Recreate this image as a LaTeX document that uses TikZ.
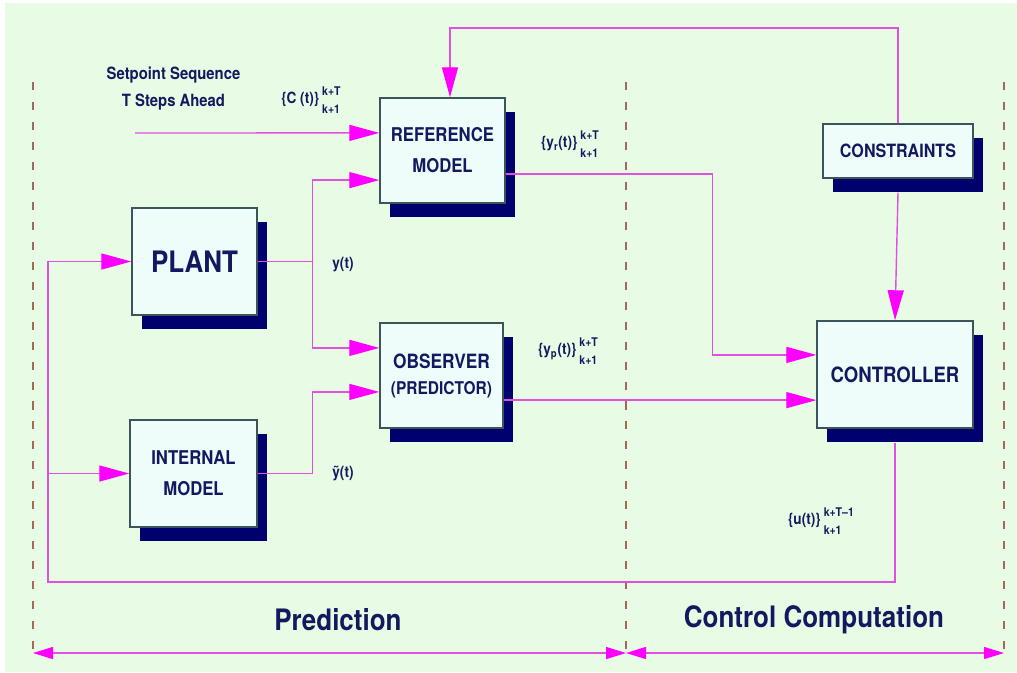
\documentclass[tikz,border=0pt]{standalone}
\usepackage{fontspec}
\setmainfont{TeX Gyre Heros}[FakeStretch=0.88]
\usetikzlibrary{arrows.meta,shadows}

\definecolor{bgcolor}{RGB}{232,251,228}
\definecolor{boxfill}{RGB}{238,252,250}
\definecolor{boxline}{RGB}{60,85,90}
\definecolor{shadowblue}{RGB}{0,0,110}
\definecolor{textblue}{RGB}{20,25,95}
\definecolor{linemag}{RGB}{225,80,225}
\definecolor{tipmag}{RGB}{255,0,255}
\definecolor{dashbrown}{RGB}{165,105,85}

\newcommand{\seqtext}[3]{#1\hspace{0.2em}{\fontsize{8.5}{12.5}\selectfont\begin{tabular}{@{}l@{}}#2\\#3\end{tabular}}}

\tikzset{
  block/.style={draw=boxline,line width=1pt,fill=boxfill,text=textblue,align=center,inner sep=0pt,
    drop shadow={shadow xshift=0.25cm,shadow yshift=-0.35cm,fill=shadowblue,opacity=1}},
  lab/.style={text=textblue,font=\bfseries\fontsize{11}{13}\selectfont,inner sep=0pt},
  sig/.style={draw=linemag,line width=1pt},
  sigarrow/.style={sig,-{Triangle[length=0.75cm,width=0.4cm,color=tipmag]}},
  spanarrow/.style={sig,{Triangle[length=0.5cm,width=0.3cm,color=tipmag]}-{Triangle[length=0.5cm,width=0.3cm,color=tipmag]}},
  sepline/.style={draw=dashbrown,line width=1.2pt,dash pattern=on 5.7pt off 8.5pt}
}

\begin{document}
\begin{tikzpicture}[x=0.025cm,y=-0.025cm]
\useasboundingbox (0,0) rectangle (1017,672);
\fill[white] (0,0) rectangle (1017,672);
\fill[bgcolor] (5,3) rectangle (1017,672);

% section borders
\draw[sepline] (33,82) -- (33,660);
\draw[sepline] (626,82) -- (626,660);
\draw[sepline] (1004,82) -- (1004,660);

% blocks
\node[block,minimum width=3.125cm,minimum height=2.625cm,font=\bfseries\fontsize{13.5}{22}\selectfont] (ref) at (442.5,150.5) {REFERENCE\\MODEL};
\node[block,minimum width=3.125cm,minimum height=2.675cm,font=\bfseries\fontsize{21}{24}\selectfont] (plant) at (194.5,261.5) {PLANT};
\node[block,minimum width=3.075cm,minimum height=2.625cm,font=\bfseries\fontsize{14}{18.5}\selectfont] (obs) at (441.5,375.5) {OBSERVER\\{\fontsize{12.5}{18.5}\selectfont (PREDICTOR)}};
\node[block,minimum width=3.175cm,minimum height=2.675cm,font=\bfseries\fontsize{13.5}{22}\selectfont] (intm) at (193.5,473.5) {INTERNAL\\MODEL};
\node[block,minimum width=3.75cm,minimum height=1.35cm,font=\bfseries\fontsize{13}{15}\selectfont] (cons) at (898,151) {CONSTRAINTS};
\node[block,minimum width=3.9cm,minimum height=2.675cm,font=\bfseries\fontsize{15}{18}\selectfont] (ctrl) at (895,374.5) {CONTROLLER};

% labels
\node[lab,font=\bfseries\fontsize{12}{19}\selectfont,align=center] (setpt) at (173.5,88.5) {Setpoint Sequence\\T Steps Ahead};
\node[lab] (cseq) at (311,101) {\seqtext{\{C (t)\}}{k+T}{k+1}};
\node[lab] (yrseq) at (570,145) {\seqtext{\{y\textsubscript{r}(t)\}}{k+T}{k+1}};
\node[lab] (ypseq) at (568,352) {\seqtext{\{y\textsubscript{p}(t)\}}{k+T}{k+1}};
\node[lab] (useq) at (821,522) {\seqtext{\{u(t)\}}{k+T--1}{k+1}};
\node[lab] (yout) at (343,265) {y(t)};
\node[lab] (ytil) at (343,473) {\~{y}(t)};
\node[lab,font=\bfseries\fontsize{21}{24}\selectfont] (predlab) at (338,620) {Prediction};
\node[lab,font=\bfseries\fontsize{21}{24}\selectfont] (ctrllab) at (814,620) {Control Computation};

% inputs and corners
\coordinate (spstart) at (135,133);
\coordinate (refin1) at ([yshift=0.44cm]ref.west);
\coordinate (refin2) at ([yshift=-0.74cm]ref.west);
\coordinate (obsin1) at ([yshift=0.69cm]obs.west);
\coordinate (obsin2) at ([yshift=-0.41cm]obs.west);
\coordinate (ctrlin1) at ([yshift=0.49cm]ctrl.west);
\coordinate (ctrlin2) at ([yshift=-0.64cm]ctrl.west);
\coordinate (reftop) at (450,0 |- ref.north);
\coordinate (toprail) at (0,28);
\coordinate (fbl) at (48,582);

% signals
\draw[sigarrow] (spstart) -- (refin1);
\draw[sigarrow] (plant.east) -| ([xshift=-1.675cm]refin2) -- (refin2);
\draw[sigarrow] (plant.east) -| ([xshift=-1.675cm]obsin1) -- (obsin1);
\draw[sigarrow] (intm.east) -| ([xshift=-1.675cm]obsin2) -- (obsin2);
\draw[sigarrow] ([yshift=-0.59cm]ref.east) -| ([xshift=-2.6cm]ctrlin1) -- (ctrlin1);
\draw[sigarrow] (obs.east |- ctrlin2) -- (ctrlin2);
\draw[sigarrow] (cons.north) -- (cons.north |- toprail) -| (reftop);
\draw[sigarrow] ([yshift=-0.35cm]cons.south) -- (ctrl.north);
\draw[sigarrow] ([yshift=-0.35cm]ctrl.south) |- (fbl) |- (plant.west);
\draw[sigarrow] (fbl) |- (intm.west);

% spans
\coordinate (spl) at (33,653);
\coordinate (spm) at (626,653);
\coordinate (spr) at (1004,653);
\draw[spanarrow] (spl) -- (spm);
\draw[spanarrow] (spm) -- (spr);
\end{tikzpicture}
\end{document}
